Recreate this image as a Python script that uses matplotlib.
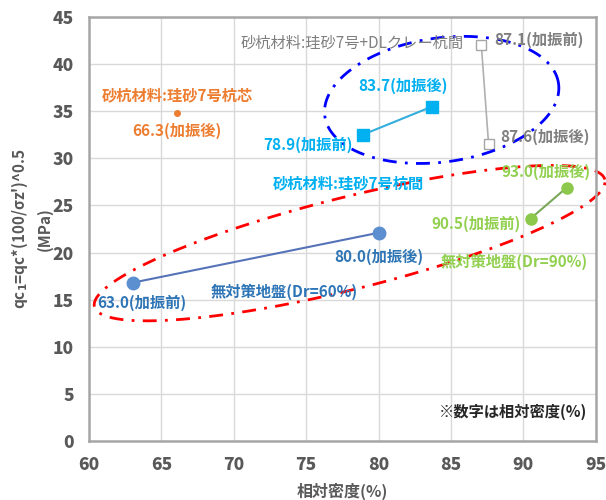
import numpy as np
import matplotlib
matplotlib.use("Agg")
import matplotlib.pyplot as plt

plt.rcParams['font.family'] = ['Noto Sans CJK JP', 'DejaVu Sans']
plt.rcParams['font.weight'] = 'bold'
plt.rcParams['axes.labelweight'] = 'bold'

# data (relative density %, qc1 MPa)
dr60_x = [63.0, 80.0]
dr60_y = [16.8, 22.1]
dr90_x = [90.5, 93.0]
dr90_y = [23.6, 26.9]
kanma_x = [78.9, 83.7]
kanma_y = [32.5, 35.5]
dl_x = [87.1, 87.6]
dl_y = [42.0, 31.5]
shin_x = [66.1]
shin_y = [34.8]
xticks = np.arange(60, 96, 5)
yticks = np.arange(0, 46, 5)

fig = plt.figure(figsize=(6.06, 5.0), dpi=100)
ax = fig.add_axes([0.147, 0.118, 0.836, 0.848])
ax.set_xlim(60, 95)
ax.set_ylim(0, 45)
ax.set_xticks(xticks)
ax.set_yticks(yticks)
ax.grid(True, color='#D9D9D9', lw=1)
ax.set_axisbelow(True)
for s in ax.spines.values():
    s.set_color('#A6A6A6')
    s.set_linewidth(1.8)
ax.tick_params(length=0, labelsize=12.5, labelcolor='#595959', pad=11)

ax.set_xlabel('相対密度(%)', fontsize=11.5, color='#595959', labelpad=6)
ax.set_ylabel("qc$_1$=qc*(100/σz')^0.5\n(MPa)", fontsize=11, color='#595959',
              linespacing=1.5, labelpad=0)

ax.plot(dr60_x, dr60_y, '-o', color='#5573B8', lw=1.5, ms=9,
        mfc='#5B8FD0', mec='#5B8FD0')
ax.plot(dr90_x, dr90_y, '-o', color='#7AA85A', lw=1.5, ms=8,
        mfc='#8CC84B', mec='#8CC84B')
ax.plot(kanma_x, kanma_y, '-s', color='#33AEDD', lw=1.5, ms=8,
        mfc='#00B0F0', mec='#00B0F0')
ax.plot(dl_x, dl_y, '-s', color='#B0B0B0', lw=1.2, ms=7,
        mfc='white', mec='#A6A6A6')
ax.plot(shin_x, shin_y, 'o', color='#ED7D31', ms=4)

# dash-dot ellipses drawn in pixel units
W, H = fig.get_size_inches() * fig.dpi
pos = ax.get_position()
xs = pos.width * W / 35.0
ys = pos.height * H / 45.0


def ellipse(cx, cy, a, b, ang, color):
    t = np.linspace(0, 2 * np.pi, 300)
    th = np.deg2rad(ang)
    px = a * np.cos(t) * np.cos(th) - b * np.sin(t) * np.sin(th)
    py = a * np.cos(t) * np.sin(th) + b * np.sin(t) * np.cos(th)
    ax.plot(cx + px / xs, cy + py / ys, color=color, lw=2,
            ls=(0, (5, 3, 1, 3)), clip_on=False)


ellipse(78.0, 21.0, 263, 46, 14, '#FF0000')
ellipse(84.36, 36.2, 118, 62, 8, '#0000FF')

fs = 11
ax.text(63.66, 14.65, '63.0(加振前)', color='#2E75B6', fontsize=fs, ha='center', va='center')
ax.text(80.0, 19.5, '80.0(加振後)', color='#2E75B6', fontsize=fs, ha='center', va='center')
ax.text(73.5, 15.8, '無対策地盤(Dr=60%)', color='#2E75B6', fontsize=fs, ha='center', va='center')
ax.text(91.55, 28.6, '93.0(加振後)', color='#92D050', fontsize=fs, ha='center', va='center')
ax.text(86.7, 23.1, '90.5(加振前)', color='#92D050', fontsize=fs, ha='center', va='center')
ax.text(89.4, 19.0, '無対策地盤(Dr=90%)', color='#92D050', fontsize=fs, ha='center', va='center')
ax.text(81.67, 37.7, '83.7(加振後)', color='#00B0F0', fontsize=fs, ha='center', va='center')
ax.text(78.2, 31.4, '78.9(加振前)', color='#00B0F0', fontsize=fs, ha='right', va='center')
ax.text(77.94, 27.4, '砂杭材料:珪砂7号杭間', color='#00B0F0', fontsize=fs, ha='center', va='center')
ax.text(78.2, 42.25, '砂杭材料:珪砂7号+DLクレー杭間', color='#7F7F7F', fontsize=fs,
        ha='center', va='center', fontweight='normal')
ax.text(88.0, 42.6, '87.1(加振前)', color='#7F7F7F', fontsize=fs, ha='left', va='center')
ax.text(88.4, 32.3, '87.6(加振後)', color='#7F7F7F', fontsize=fs, ha='left', va='center')
ax.text(66.07, 36.7, '砂杭材料:珪砂7号杭芯', color='#ED7D31', fontsize=fs, ha='center', va='center')
ax.text(66.07, 32.9, '66.3(加振後)', color='#ED7D31', fontsize=fs, ha='center', va='center')
ax.text(94.44, 3.08, '※数字は相対密度(%)', color='#262626', fontsize=fs, ha='right', va='center')

for lab in ax.get_xticklabels() + ax.get_yticklabels():
    lab.set_fontweight('heavy')

fig.savefig('out.png', dpi=100)
